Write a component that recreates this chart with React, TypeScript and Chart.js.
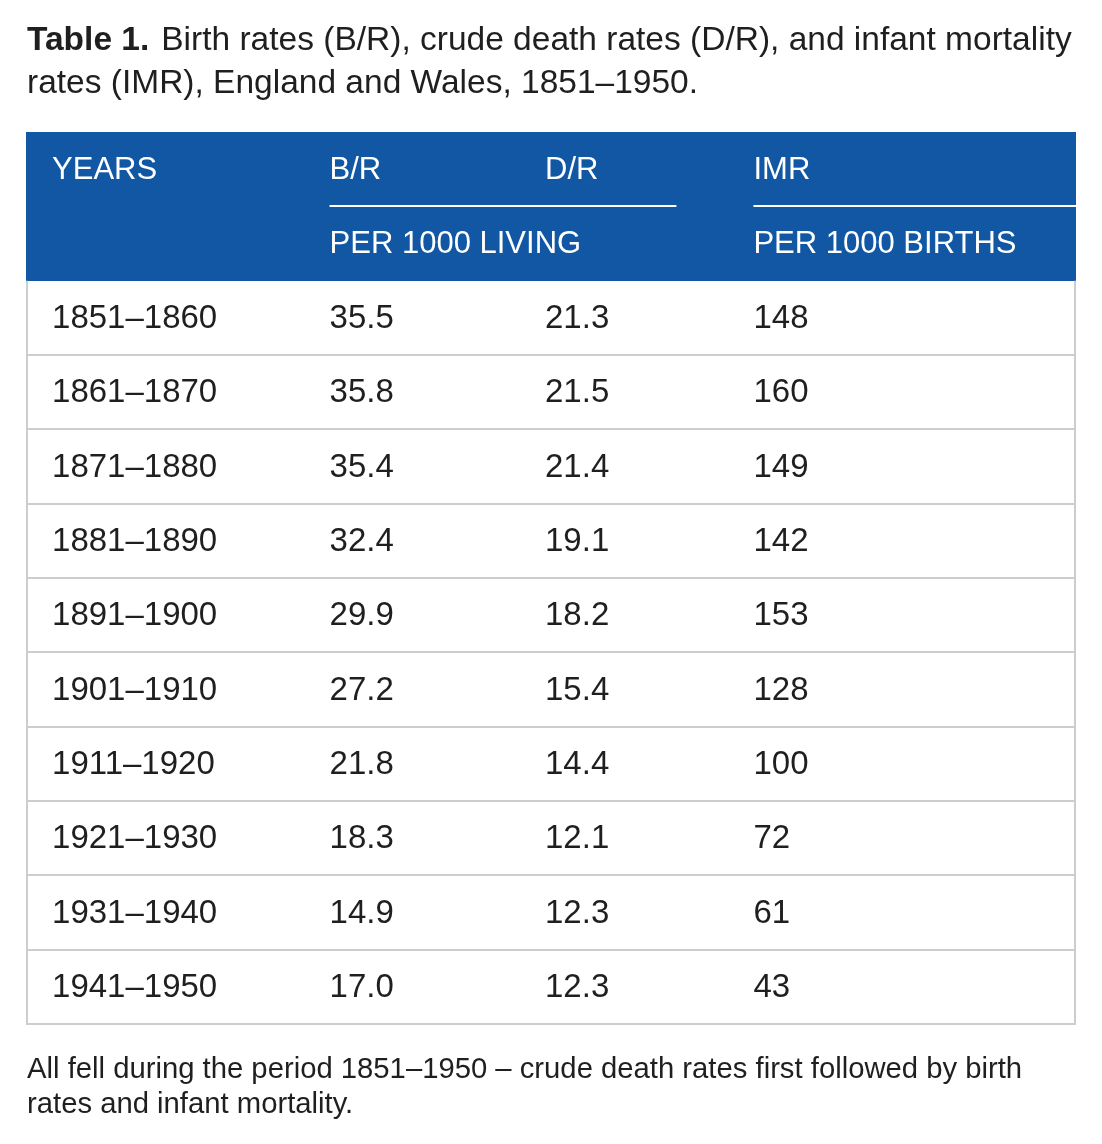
import React, { useEffect, useRef } from "react";
import { Chart, registerables } from "chart.js";

Chart.register(...registerables);

// ---------- data ----------
const YEARS = [
  "1851–1860",
  "1861–1870",
  "1871–1880",
  "1881–1890",
  "1891–1900",
  "1901–1910",
  "1911–1920",
  "1921–1930",
  "1931–1940",
  "1941–1950",
];
const BIRTH_RATES = [35.5, 35.8, 35.4, 32.4, 29.9, 27.2, 21.8, 18.3, 14.9, 17.0];
const DEATH_RATES = [21.3, 21.5, 21.4, 19.1, 18.2, 15.4, 14.4, 12.1, 12.3, 12.3];
const INFANT_MORTALITY = [148, 160, 149, 142, 153, 128, 100, 72, 61, 43];
const HEADER_MAIN = ["YEARS", "B/R", "D/R", "IMR"];
const HEADER_UNITS = ["", "PER 1000 LIVING", "", "PER 1000 BIRTHS"];
const TITLE_BOLD = "Table 1.";
const TITLE_LINE1 = "Birth rates (B/R), crude death rates (D/R), and infant mortality";
const TITLE_LINE2 = "rates (IMR), England and Wales, 1851–1950.";
const NOTE_LINE1 = "All fell during the period 1851–1950 – crude death rates first followed by birth";
const NOTE_LINE2 = "rates and infant mortality.";

// ---------- layout (not data) ----------
const COL_ANCHOR = [0.0248, 0.2891, 0.4943, 0.6928]; // fraction of table width
const UNDERLINE_SPANS = [
  [0.2891, 0.6194],
  [0.6928, 1.0],
];
const HEAD_ROWS = ["__h1", "__h2"];
const BLUE = "#1157a3";
const GRID = "#cdcdcd";
const INK = "#1f1f1f";
const FONT = '"Liberation Sans", Arial, Helvetica, sans-serif';
const HEAD_FONT_PX = 31;
const CELL_FONT_PX = 33;

const tablePlugin = {
  id: "tablePlugin",
  beforeDatasetsDraw(chart: any) {
    const { ctx, chartArea, scales } = chart;
    const x = scales.x;
    const y = scales.y;
    const left = chartArea.left;
    const right = chartArea.right;
    const band = y.getPixelForValue(1) - y.getPixelForValue(0);
    const top = y.getPixelForValue(0) - band / 2;
    const headBottom = y.getPixelForValue(1) + band / 2;
    const bottom = y.getPixelForValue(y.getLabels().length - 1) + band / 2;

    ctx.save();
    // header background
    ctx.fillStyle = BLUE;
    ctx.fillRect(left, Math.round(top), right - left, Math.round(headBottom - top));

    // header underlines
    const midHead = Math.round(y.getPixelForValue(0) + band / 2);
    ctx.strokeStyle = "#ffffff";
    ctx.lineWidth = 2;
    UNDERLINE_SPANS.forEach(([a, b]) => {
      ctx.beginPath();
      ctx.moveTo(x.getPixelForValue(a), midHead);
      ctx.lineTo(x.getPixelForValue(b), midHead);
      ctx.stroke();
    });

    // header text
    ctx.fillStyle = "#ffffff";
    ctx.font = `${HEAD_FONT_PX}px ${FONT}`;
    ctx.textBaseline = "middle";
    ctx.textAlign = "left";
    HEADER_MAIN.forEach((t, i) => {
      ctx.fillText(t, x.getPixelForValue(COL_ANCHOR[i]), y.getPixelForValue(0) + 1);
    });
    HEADER_UNITS.forEach((t, i) => {
      if (t) ctx.fillText(t, x.getPixelForValue(COL_ANCHOR[i]), y.getPixelForValue(1) + 1);
    });

    // grid lines
    ctx.strokeStyle = GRID;
    ctx.lineWidth = 2;
    for (let i = 0; i < YEARS.length; i++) {
      const yy = Math.round(y.getPixelForValue(HEAD_ROWS.length + i) + band / 2);
      ctx.beginPath();
      ctx.moveTo(left, yy);
      ctx.lineTo(right, yy);
      ctx.stroke();
    }
    ctx.beginPath();
    ctx.moveTo(left + 1, headBottom);
    ctx.lineTo(left + 1, bottom);
    ctx.moveTo(right - 1, headBottom);
    ctx.lineTo(right - 1, bottom);
    ctx.stroke();

    // year labels
    ctx.fillStyle = INK;
    ctx.font = `${CELL_FONT_PX}px ${FONT}`;
    YEARS.forEach((t) => {
      ctx.fillText(t, x.getPixelForValue(COL_ANCHOR[0]), y.getPixelForValue(t) + 1);
    });
    ctx.restore();
  },
  afterDatasetsDraw(chart: any) {
    const { ctx } = chart;
    ctx.save();
    ctx.fillStyle = INK;
    ctx.font = `${CELL_FONT_PX}px ${FONT}`;
    ctx.textBaseline = "middle";
    ctx.textAlign = "left";
    chart.data.datasets.forEach((ds: any, di: number) => {
      const meta = chart.getDatasetMeta(di);
      meta.data.forEach((pt: any, j: number) => {
        const v = ds.data[j].v;
        ctx.fillText(ds.fmt(v), pt.x, pt.y + 1);
      });
    });
    ctx.restore();
  },
};

function buildDataset(label: string, col: number, values: number[], fmt: (v: number) => string) {
  return {
    label,
    data: values.map((v, i) => ({ x: COL_ANCHOR[col], y: YEARS[i], v })),
    pointRadius: 0,
    pointHoverRadius: 0,
    showLine: false,
    fmt,
  };
}

export default function App() {
  const ref = useRef<HTMLCanvasElement | null>(null);

  useEffect(() => {
    if (!ref.current) return;
    const chart = new Chart(ref.current, {
      type: "scatter",
      data: {
        datasets: [
          buildDataset("B/R", 1, BIRTH_RATES, (v) => v.toFixed(1)),
          buildDataset("D/R", 2, DEATH_RATES, (v) => v.toFixed(1)),
          buildDataset("IMR", 3, INFANT_MORTALITY, (v) => String(v)),
        ] as any,
      },
      options: {
        animation: false,
        responsive: false,
        maintainAspectRatio: false,
        events: [],
        layout: { padding: { left: 26, right: 26, top: 132, bottom: 120 } },
        plugins: { legend: { display: false }, tooltip: { enabled: false } },
        scales: {
          x: { type: "linear", min: 0, max: 1, display: false },
          y: {
            type: "category",
            labels: [...HEAD_ROWS, ...YEARS],
            offset: true,
            display: false,
          },
        },
      } as any,
      plugins: [tablePlugin],
    });
    return () => chart.destroy();
  }, []);

  const textBase: React.CSSProperties = {
    position: "absolute",
    left: 27,
    margin: 0,
    fontFamily: FONT,
    color: INK,
    whiteSpace: "nowrap",
  };

  return (
    <div style={{ position: "fixed", left: 0, top: 0, width: 1102, height: 1144, background: "#ffffff" }}>
      <canvas ref={ref} width={1102} height={1144} style={{ position: "absolute", left: 0, top: 0 }} />
      <div style={{ ...textBase, top: 17, fontSize: 33.5, lineHeight: "43px" }}>
        <b>{TITLE_BOLD}</b>
        <span style={{ marginLeft: 12 }}>{TITLE_LINE1}</span>
        <br />
        {TITLE_LINE2}
      </div>
      <div style={{ ...textBase, top: 1051, fontSize: 29.25, lineHeight: "35px" }}>
        {NOTE_LINE1}
        <br />
        {NOTE_LINE2}
      </div>
    </div>
  );
}
